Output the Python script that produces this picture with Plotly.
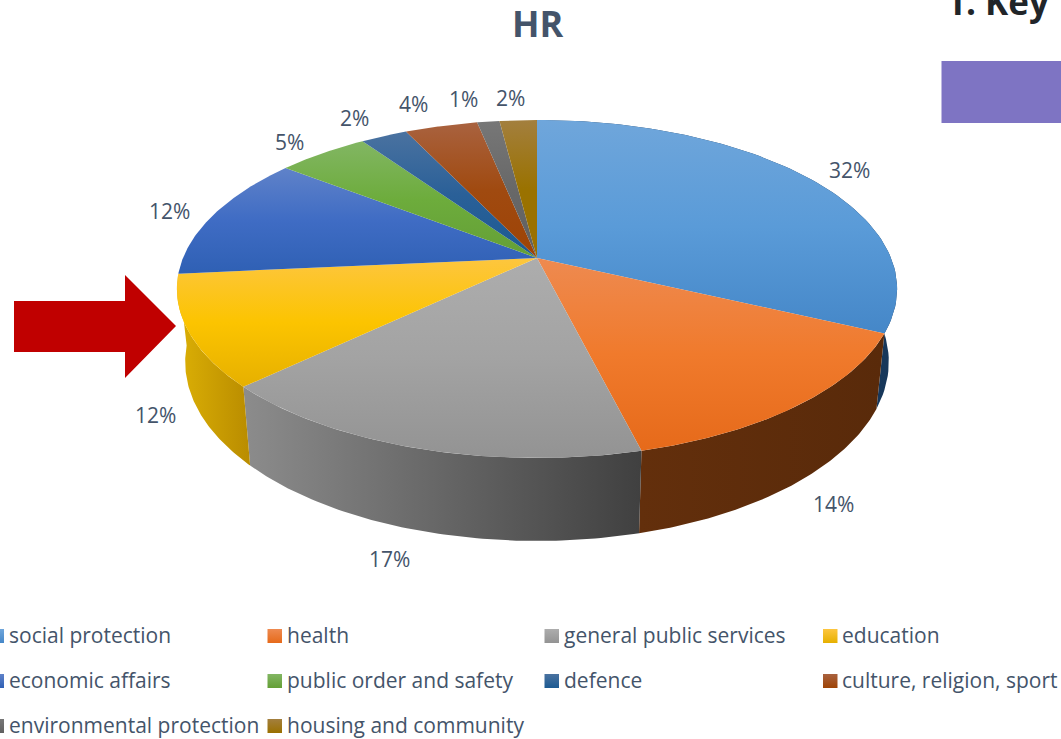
import numpy as np
import plotly.graph_objects as go

categories = ["social protection", "health", "general public services", "education",
              "economic affairs", "public order and safety", "defence",
              "culture, religion, sport", "environmental protection", "housing and community"]
values = [32.0, 14.1, 16.8, 10.6, 12.0, 4.9, 2.5, 3.9, 1.2, 2.0]
percent_labels = ["32%", "14%", "17%", "12%", "12%", "5%", "2%", "4%", "1%", "2%"]

top_colors = [
    ["#6fa6db", "#5a9bd8", "#4587c8"],
    ["#ee8a50", "#f07a2c", "#e66a1a"],
    ["#adadad", "#a3a3a3", "#939393"],
    ["#fdc63f", "#fcc400", "#e6b000"],
    ["#5f82c9", "#3f6cc4", "#2f60b4"],
    ["#82b663", "#6dac3c", "#649f36"],
    ["#4a72a0", "#2a6098", "#1c5a92"],
    ["#a9623f", "#a04a10", "#9e4305"],
    ["#777777", "#686868", "#606060"],
    ["#a37f3e", "#9a7200", "#9a7000"],
]
wall_colors = [
    ["#1b3e62", "#17375a"],
    ["#632f0c", "#592a0a"],
    ["#8c8c8c", "#404040"],
    ["#dcb005", "#b98c00"],
]

label_x = [849, 833, 389, 155, 169, 289, 354, 413, 463, 510]
label_y = [170, 504, 559, 415, 211, 142, 118, 104, 99, 98]
legend_col_swatch = [-10.5, 267.5, 544.5, 823]
legend_col_text = [9, 287, 564, 842]
legend_row_y = [635, 680, 725]

TEXT = "#44546a"
FONT = "Open Sans"
CX, CY, DX, DY, K = 537.0, 258.0, 354.0, 163.3, 0.1834


def rim(theta):
    X, Y = np.sin(theta), np.cos(theta)
    w = 1 + K * Y
    return CX + DX * X / w, CY - DY * Y / w


def lower(x, y):
    return CX + (x - CX) * 0.977, y + 83 + (y - 458) * 0.06


fig = go.Figure()
edges = np.cumsum([0] + values) / sum(values) * 2 * np.pi


def poly(x, y, grad_type, colors):
    # the y axis runs downward, so a vertical gradient is listed bottom colour first
    ordered = colors[::-1] if grad_type == "vertical" else colors
    n = len(ordered) - 1
    scale = [[i / n, c] for i, c in enumerate(ordered)]
    fig.add_trace(go.Scatter(
        x=list(x), y=list(y), mode="lines", fill="toself", line=dict(width=0),
        fillgradient=dict(type=grad_type, colorscale=scale),
        hoverinfo="skip", showlegend=False))


# side walls of the front slices
for i, wc in enumerate(wall_colors):
    t = np.linspace(edges[i], edges[i + 1], 80)
    x, y = rim(t)
    lx, ly = lower(x, y)
    poly(np.r_[x, lx[::-1]], np.r_[y, ly[::-1]], "horizontal", wc)

# top faces
for i, tc in enumerate(top_colors):
    t = np.linspace(edges[i], edges[i + 1], 80)
    x, y = rim(t)
    poly(np.r_[CX, x, CX], np.r_[CY, y, CY], "vertical", tc)

# legend swatches
for i, name in enumerate(categories):
    row, col = divmod(i, 4)
    sx = legend_col_swatch[col]
    ry = legend_row_y[row] + 1
    poly([sx, sx + 14.5, sx + 14.5, sx, sx], [ry - 7, ry - 7, ry + 7, ry + 7, ry - 7], "vertical",
         [top_colors[i][0], top_colors[i][2]])

annotations = []
for t, x, y in zip(percent_labels, label_x, label_y):
    annotations.append(dict(x=x, y=y, text=t, showarrow=False, xanchor="center", yanchor="middle",
                            font=dict(family=FONT, size=21, color=TEXT)))
for i, name in enumerate(categories):
    row, col = divmod(i, 4)
    annotations.append(dict(x=legend_col_text[col], y=legend_row_y[row], text=name, showarrow=False,
                            xanchor="left", yanchor="middle", xshift=-2,
                            font=dict(family=FONT, size=21, color=TEXT)))
annotations.append(dict(x=538, y=23, text="<b>HR</b>", showarrow=False, xanchor="center", yanchor="middle",
                        font=dict(family=FONT, size=36, color=TEXT)))
annotations.append(dict(x=946, y=1.5, text="<b>1. Key</b>", showarrow=False, xanchor="left", yanchor="middle",
                        xshift=-2, font=dict(family=FONT, size=35, color="#212529")))

shapes = [
    dict(type="rect", x0=941.5, x1=1061, y0=61, y1=123, fillcolor="#7e74c3", line=dict(width=0), layer="above"),
    dict(type="path", path="M14,301 L125,301 L125,275 L176,326 L125,378 L125,352 L14,352 Z",
         fillcolor="#c00000", line=dict(width=0), layer="above"),
]

fig.update_layout(
    width=1061, height=739, margin=dict(l=0, r=0, t=0, b=0),
    paper_bgcolor="white", plot_bgcolor="white", showlegend=False,
    xaxis=dict(range=[0, 1061], visible=False, fixedrange=True),
    yaxis=dict(range=[739, 0], visible=False, fixedrange=True),
    annotations=annotations, shapes=shapes,
)
fig.write_html("out.html", config=dict(displayModeBar=False),
               post_script="document.body.style.margin='0';document.body.style.overflow='hidden';")
